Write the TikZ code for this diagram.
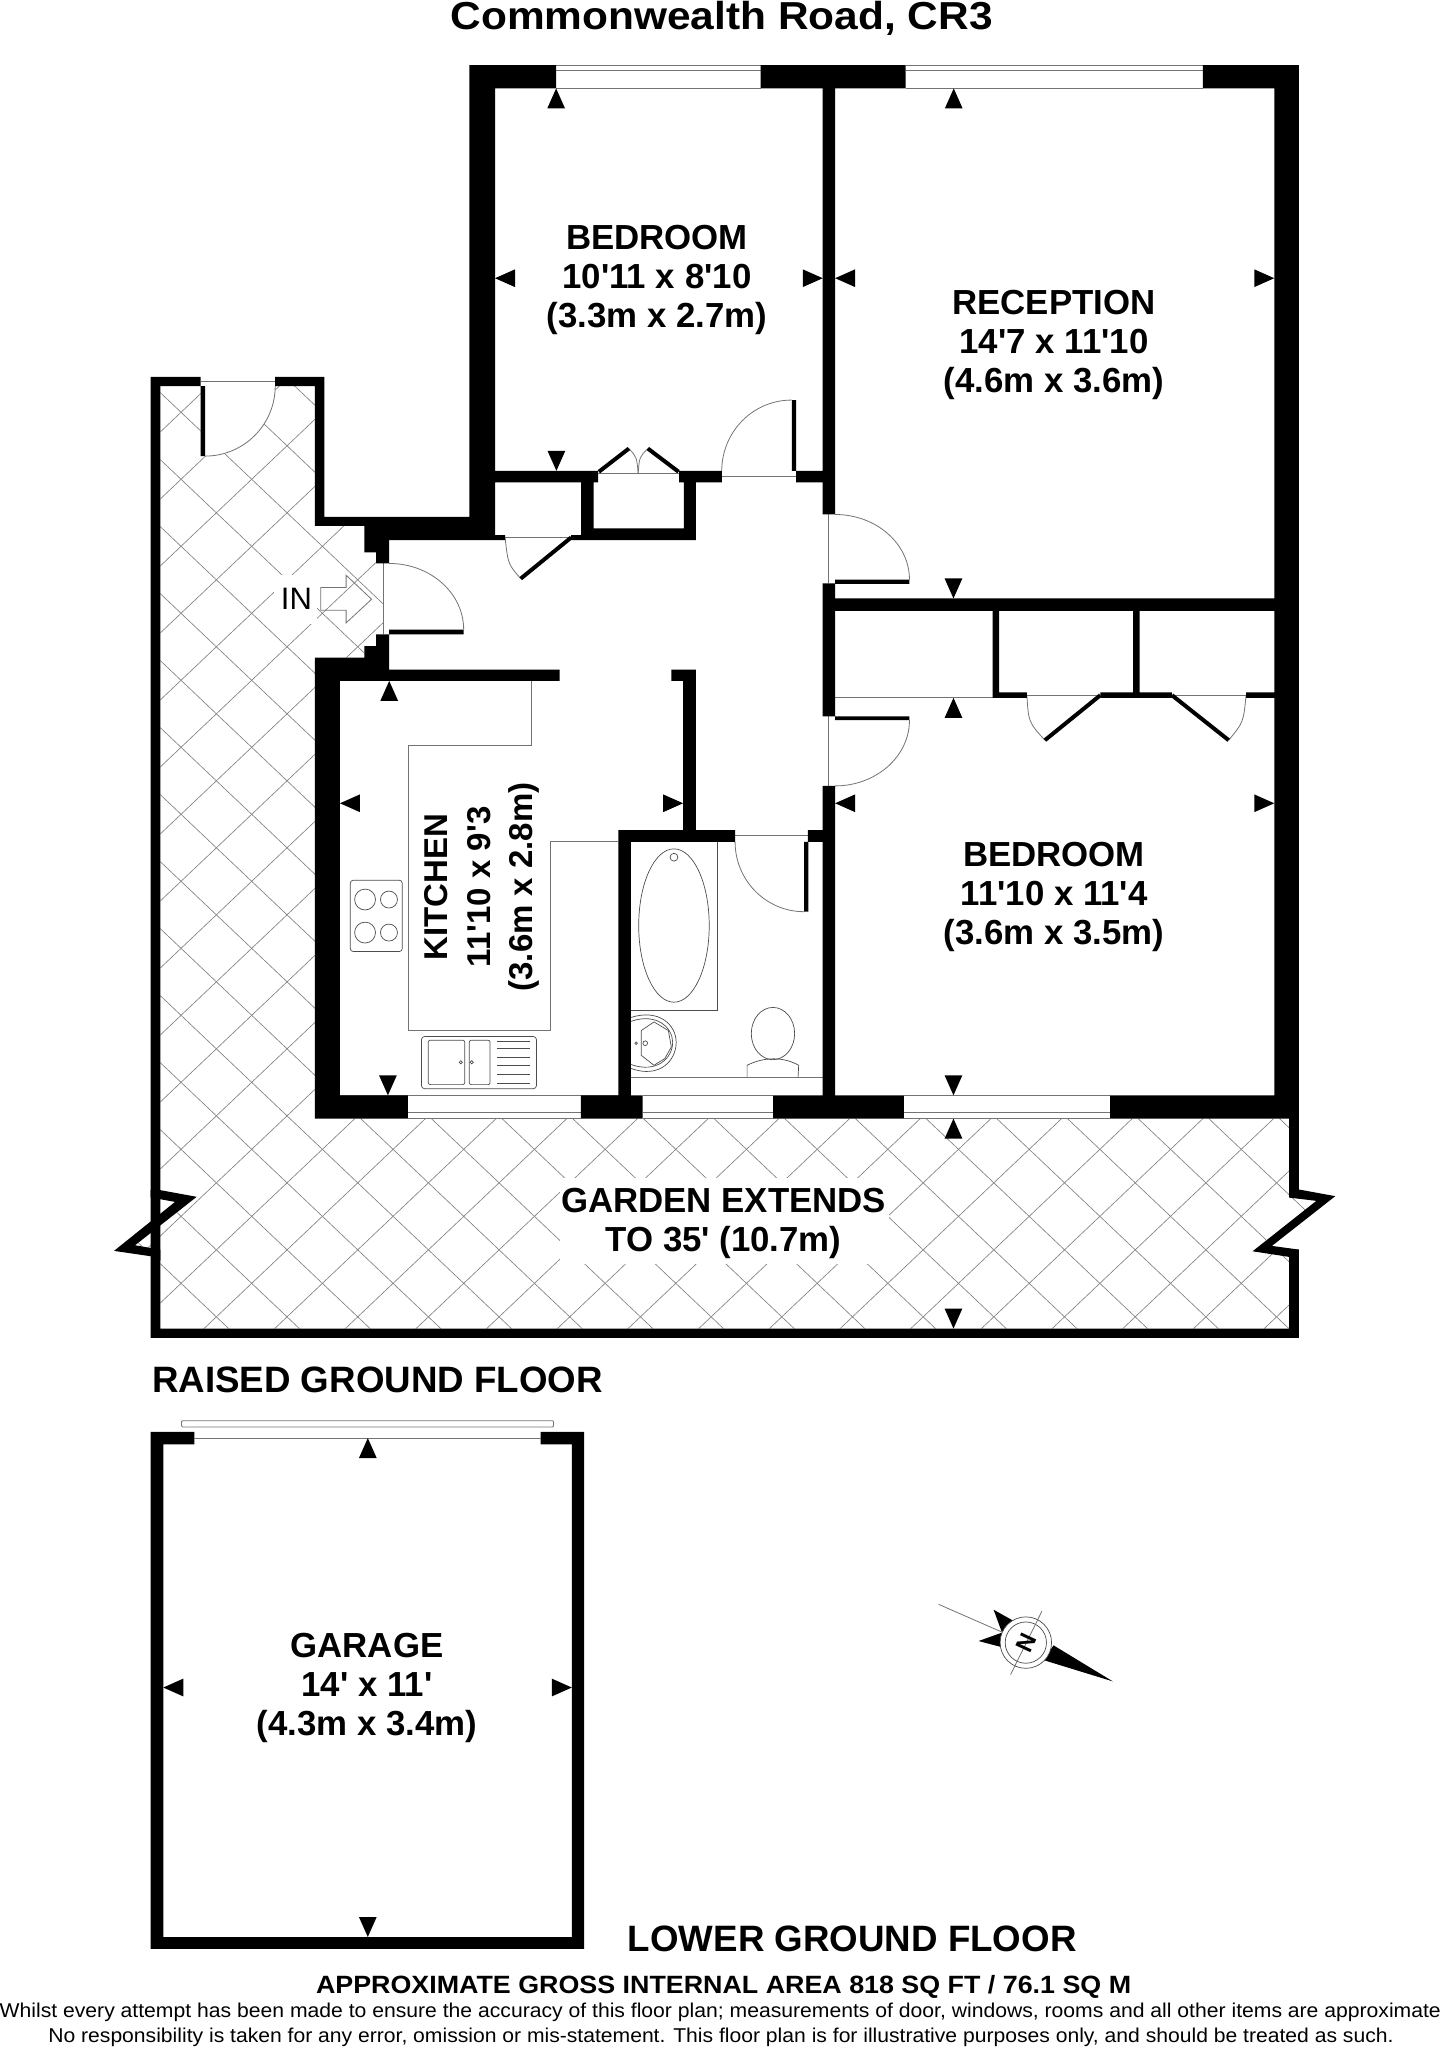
\documentclass[tikz,border=0pt]{standalone}
\usepackage{fontspec}
\usepackage{graphicx}
\setmainfont[Ligatures=TeXOff]{Liberation Sans}
\usetikzlibrary{calc}
\tikzset{
  wallfill/.style={fill=black,draw=none},
  thin line/.style={draw=black!55,line width=.8pt},
  hatch line/.style={draw=black!50,line width=.65pt},
  fixture/.style={draw=black!70,line width=.7pt},
  leaf/.style={draw=black,line width=4pt},
  room/.style={font=\fontsize{34.8}{39}\selectfont\bfseries,align=center,inner sep=0pt},
  kitchenroom/.style={font=\fontsize{33}{42.5}\selectfont\bfseries,align=center,inner sep=0pt},
  floorlabel/.style={font=\fontsize{36.7}{39}\selectfont\bfseries,anchor=base,inner sep=0pt},
  foot/.style={anchor=base,inner sep=0pt},
}
\newcommand{\swing}[6]{\draw[thin line] (#1,#2) .. controls ($(#1,#2)!.552!(#3,#4)$) and ($(#5,#6)!.552!(#3,#4)$) .. (#5,#6);}
\newcommand{\tiU}[2]{\fill (#1,#2)--++(-6.8,15.3)--++(13.6,0)--cycle;}
\newcommand{\tiD}[2]{\fill (#1,#2)--++(-6.8,-15.3)--++(13.6,0)--cycle;}
\newcommand{\tiL}[2]{\fill (#1,#2)--++(15.3,-6.8)--++(0,13.6)--cycle;}
\newcommand{\tiR}[2]{\fill (#1,#2)--++(-15.3,-6.8)--++(0,13.6)--cycle;}
\begin{document}
\begin{tikzpicture}[x=1.30588pt,y=-1.30588pt]
\useasboundingbox (0,0) rectangle (1105,1568);
% garden hatching
\begin{scope}
\clip (122.8,295.6)--(241,295.6)--(241,402.6)--(279,402.6)--(279,423)--(288,423)--(288,431.4)--(293.7,431.4)--(293.7,485.6)--(288,485.6)--(288,494.7)--(279,494.7)--(279,503.4)--(241,503.4)--(241,856.4)--(987,856.4)--(987,916.9)--(1007.8,919.4)--(959,958)--(987,962.3)--(987,1017.2)--(122.8,1017.2)--(122.8,956.7)--(103.4,953.4)--(150.6,916.3)--(122.8,911.2)--cycle;
\foreach \k in {-32,...,9}{
  \draw[hatch line] (80,{773.1+\k*51.3})--(1030,{1673.7+\k*51.3});
}
\foreach \k in {-14,...,20}{
  \draw[hatch line] (80,{935.5+\k*51.3})--(1030,{34.9+\k*51.3});
}
\end{scope}
% clearings in the hatching
\fill[white] (157,295.6)--(210.7,295.6) .. controls (210.7,325) and (187,349.2) .. (157,349.2)--cycle;
\fill[white] (210,440) rectangle (243,478);
\fill[white] (429,902) rectangle (681,968);
% fine lines: windows and door openings
\draw[thin line] (425.8,49.8)--(582.3,49.8) (425.8,54.1)--(582.3,54.1) (425.8,67.7)--(582.3,67.7);
\draw[thin line] (693.4,49.8)--(921,49.8) (693.4,54.1)--(921,54.1) (693.4,67.7)--(921,67.7);
\draw[thin line] (312.3,838.6)--(444.7,838.6) (312.3,851.8)--(444.7,851.8) (312.3,856.4)--(444.7,856.4);
\draw[thin line] (492,838.6)--(592,838.6) (492,851.8)--(592,851.8) (492,856.4)--(592,856.4);
\draw[thin line] (692,838.6)--(850,838.6) (692,851.8)--(850,851.8) (692,856.4)--(850,856.4);
\draw[thin line] (153.6,292)--(210.7,292);
\draw[thin line] (552.6,365)--(609.6,365);
\draw[thin line] (634.6,393.9)--(634.6,446.7) (634.6,548.4)--(634.6,601.7);
\draw[thin line] (293.7,431.4)--(293.7,485.6);
\draw[thin line] (386.7,411.5)--(438,411.5);
\draw[thin line] (458,362.5)--(520,362.5);
\draw[thin line] (639.4,534.3)--(760,534.3);
\draw[thin line] (786.2,532.3)--(842.4,532.3) (897.3,532.3)--(954,532.3);
\draw[thin line] (562.8,639.4)--(618.6,639.4);
% worktop
\draw[thin line] (406.9,521)--(406.9,570.6)--(312.3,570.6)--(312.3,788.8)--(421.4,788.8)--(421.4,644.3)--(473.4,644.3);
\draw[thin line] (260.3,838.6)--(473.4,838.6);
% door swings
\swing{210.7}{295.6}{210.7}{349.2}{157}{349.2}
\swing{606}{306.3}{552.6}{306.3}{552.6}{360.5}
\swing{639.4}{393.9}{696.3}{393.9}{696.3}{443.7}
\swing{696.3}{551.4}{696.3}{601.7}{639.4}{601.7}
\swing{298}{431.4}{355}{431.4}{355}{482}
\swing{562.8}{644.5}{562.8}{698}{615.6}{698}
\draw[thin line] (386.7,411.5) .. controls (389,432) .. (398.7,443);
\draw[thin line] (481.5,343.4) .. controls (487.5,350) .. (488.6,362.5);
\draw[thin line] (496,343.4) .. controls (489.5,350) .. (488.6,362.5);
\draw[thin line] (786.2,532.3) .. controls (787.5,553) .. (800,566.7);
\draw[thin line] (954,532.3) .. controls (952,553) .. (940.7,566.7);
% door leaves
\draw[leaf] (437.3,411.5)--(398.7,443);
\draw[leaf] (458.5,361.2)--(481.5,343.4);
\draw[leaf] (519.5,361.2)--(496,343.4);
\draw[leaf] (842.4,532.3)--(800,566.7);
\draw[leaf] (897.3,532.3)--(940.7,566.7);
% hob
\draw[fixture,rounded corners=3pt] (268.2,673.9) rectangle (308,728.5);
\draw[fixture] (279.5,688.7) circle[radius=8] (297.8,688.7) circle[radius=6.5] (279.5,714) circle[radius=8] (297.8,714) circle[radius=6.5];
% kitchen sink
\draw[fixture,rounded corners=3pt] (322.7,793.6) rectangle (410.7,833.5);
\draw[fixture,rounded corners=2pt] (327.9,796.4) rectangle (355.8,830.4);
\draw[fixture,rounded corners=2pt] (359.3,796.4) rectangle (375.2,830.4);
\draw[fixture] (380.4,797)--(405.8,797) (380.4,803)--(405.8,803) (380.4,809.5)--(405.8,809.5) (380.4,816)--(405.8,816) (380.4,822.7)--(405.8,822.7) (380.4,829.1)--(405.8,829.1);
\draw[fixture] (352.8,813.3) circle[radius=1.2] (361.2,813.3) circle[radius=1.2];
% bath
\draw[fixture] (483,773.7)--(549.4,773.7)--(549.4,644.5);
\draw[fixture] (516,708.6) ellipse[x radius=27,y radius=58.7];
\draw[fixture] (516,656.3) circle[radius=3];
% basin
\draw[fixture] (483,779) .. controls (505,772) and (517.7,785) .. (517.7,798) .. controls (517.7,812) and (505,826) .. (483,818);
\draw[fixture] (483,782) .. controls (503,775) and (515,787) .. (515,798) .. controls (515,810) and (503,822) .. (483,815);
\draw[fixture] (491,789)--(500.7,782.4)--(511.7,789)--(514,801.5)--(509,810.5)--(500.7,815.6)--(491,808)--cycle;
\draw[fixture] (494,798.7) circle[radius=1.8] (487,798.7) circle[radius=1];
% toilet
\draw[fixture] (591.8,791.3) ellipse[x radius=16.6,y radius=20];
\draw[fixture] (572,824.8)--(572,815.6) .. controls (585,809) and (600,809) .. (611.5,815.6)--(611,824.8);
\draw[thin line] (483,824.8)--(629.8,824.8);
% walls
\fill[wallfill]
 (359.4,49.8) rectangle (425.8,67.7)
 (582.3,49.8) rectangle (693.4,67.7)
 (921,49.8) rectangle (994.5,67.7)
 (975.6,49.8) rectangle (994.5,856.4)
 (359.4,49.8) rectangle (379,413.6)
 (629.9,49.8) rectangle (639.4,393.9)
 (629.9,446.7) rectangle (639.4,548.4)
 (629.9,601.7) rectangle (639.4,856.4)
 (379,360.5) rectangle (458,369.4)
 (445,360.5) rectangle (454.4,413.6)
 (445,404.6) rectangle (532.7,413.6)
 (523.5,360.5) rectangle (532.7,413.6)
 (520,360.5) rectangle (552.6,369.4)
 (609.6,360.5) rectangle (639.4,369.4)
 (115.4,288.5) rectangle (122.8,1024.3)
 (115.4,288.5) rectangle (153.6,295.6)
 (210.7,288.5) rectangle (248.3,295.6)
 (241,288.5) rectangle (248.3,402.6)
 (241,395.7) rectangle (279,402.6)
 (279,395.7) rectangle (359.4,413.6)
 (279,395.7) rectangle (298,423)
 (288,395.7) rectangle (298,431.4)
 (379,409.7) rectangle (386.7,413.6)
 (437.3,409.7) rectangle (445,413.6)
 (153.6,295.6) rectangle (157,349.2)
 (606.2,306.3) rectangle (609.6,360.5)
 (639.4,443.7) rectangle (696.3,447)
 (639.4,548.4) rectangle (696.3,551.4)
 (298,482) rectangle (355,485.6)
 (288,485.6) rectangle (298,521.3)
 (279,494.7) rectangle (298,521.3)
 (241,503.4) rectangle (298,521.3)
 (241,512.6) rectangle (428.5,521.3)
 (241,503.4) rectangle (260.3,856.4)
 (514,512.6) rectangle (532.7,521.3)
 (523,512.6) rectangle (532.7,635.6)
 (473.4,635.6) rectangle (562.8,644.5)
 (473.4,635.6) rectangle (483,838.6)
 (618.6,635.6) rectangle (629.9,644.5)
 (615.6,644.5) rectangle (618.9,698)
 (241,838.6) rectangle (312.3,856.4)
 (444.7,838.6) rectangle (492,856.4)
 (592,838.6) rectangle (692,856.4)
 (850,838.6) rectangle (994.5,856.4)
 (639.4,458.2) rectangle (975.6,467.7)
 (760,467.7) rectangle (765,534.3)
 (760,530) rectangle (786.2,534.3)
 (867.6,467.7) rectangle (872.5,534.3)
 (842.4,530) rectangle (897.3,534.3)
 (954,530) rectangle (975.6,534.3)
 (115.4,1017.2) rectangle (994.5,1024.3)
 (987,856.4) rectangle (994.5,916)
 (987,956.7) rectangle (994.5,1024.3)
 (115.4,1096.3) rectangle (148.8,1105.8)
 (414,1096.3) rectangle (447.3,1105.8)
 (115.4,1096.3) rectangle (125,1492)
 (437.8,1096.3) rectangle (447.3,1492)
 (115.4,1483) rectangle (447.3,1492);
% zig-zag breaks
\fill[wallfill] (115.4,911)--(122.8,911.2)--(150.6,916.3)--(103.4,953.4)--(122.8,956.7)--(122.8,965)--(115.4,961.8)--(87.3,957.7)--(134,920.2)--(115.4,916.8)--cycle;
\fill[wallfill] (994.5,910.7)--(1022.3,915.8)--(973.8,953.9)--(994.5,956.7)--(994.5,965)--(987,962.3)--(959,958)--(1007.8,919.4)--(987,916.9)--(987,910.7)--cycle;
% garage door
\draw[thin line] (148.8,1101)--(414,1101);
\draw[thin line,rounded corners=1pt] (139,1087.7) rectangle (423.8,1092.5);
% dimension arrows
\tiU{425.8}{67.7} \tiL{379}{213} \tiR{629.9}{213} \tiD{426}{360.5}
\tiU{730.2}{67.7} \tiL{639.4}{213} \tiR{975.6}{213} \tiD{730}{458.2}
\tiU{730}{534.3} \tiL{639.4}{615} \tiR{975.6}{615} \tiD{730}{838.6}
\tiU{298}{521.3} \tiL{260.3}{615} \tiR{523}{615} \tiD{297}{838.6}
\tiU{730}{856.4} \tiD{730}{1017.2}
\tiU{281.6}{1101} \tiL{125}{1292} \tiR{437.8}{1292} \tiD{281.6}{1483}
% entrance arrow
\draw[thin line] (245.5,449.8)--(265,449.8)--(265,440.4)--(284.5,458.8)--(265,476.9)--(265,467.2)--(245.5,467.2)--cycle;
\node[font=\fontsize{31}{31}\selectfont,inner sep=0pt] (inlabel) at (227,458.5) {IN};
% room labels
\node[room] (bed1) at (503,214) {BEDROOM\\10'11 x 8'10\\(3.3m x 2.7m)};
\node[room] (reception) at (807,264) {RECEPTION\\14'7 x 11'10\\(4.6m x 3.6m)};
\node[room] (bed2) at (807,687) {BEDROOM\\11'10 x 11'4\\(3.6m x 3.5m)};
\node[kitchenroom,rotate=90] (kitchen) at (369,679) {KITCHEN\\11'10 x 9'3\\(3.6m x 2.8m)};
\node[room] (garden) at (554,937) {GARDEN EXTENDS\\TO 35' (10.7m)};
\node[room] (garage) at (281,1292) {GARAGE\\14' x 11'\\(4.3m x 3.4m)};
% compass
\fill (806.6,1259.7)--(852,1287.3)--(799,1271)--cycle;
\fill (776,1241)--(760.7,1232.4)--(767,1249.5)--cycle;
\fill (767,1250)--(749.2,1256.4)--(766.6,1261)--cycle;
\draw[fixture,fill=white] (785.4,1257.6) circle[radius=19.7];
\draw[fixture] (785.4,1257.6) circle[radius=15.8];
\draw[thin line] (718.6,1228.3)--(767,1249.5);
\draw[thin line] (797.7,1233.6)--(773.7,1282.1);
\node[font=\fontsize{24}{24}\selectfont\bfseries,rotate=-115,inner sep=0pt,fill=none] (north) at (785.4,1257.6) {N};
% titles
\node[foot] (title) at (552.5,22.5) {\resizebox{542pt}{\height}{\fontsize{39}{39}\selectfont\bfseries Commonwealth Road, CR3}};
\node[floorlabel] (raised) at (289,1066) {RAISED GROUND FLOOR};
\node[floorlabel] (lower) at (652.5,1494) {LOWER GROUND FLOOR};
\node[foot] (area) at (554,1526) {\resizebox{815pt}{\height}{\fontsize{25}{25}\selectfont\bfseries APPROXIMATE GROSS INTERNAL AREA 818 SQ FT / 76.1 SQ M}};
\node[foot] (note1) at (551.5,1544.5) {\resizebox{1441pt}{\height}{\fontsize{20}{20}\selectfont Whilst every attempt has been made to ensure the accuracy of this floor plan; measurements of door, windows, rooms and all other items are approximate}};
\node[foot] (note2) at (552,1564) {\resizebox{1345pt}{\height}{\fontsize{20}{20}\selectfont No responsibility is taken for any error, omission or mis-statement. This floor plan is for illustrative purposes only, and should be treated as such.}};
\end{tikzpicture}
\end{document}
